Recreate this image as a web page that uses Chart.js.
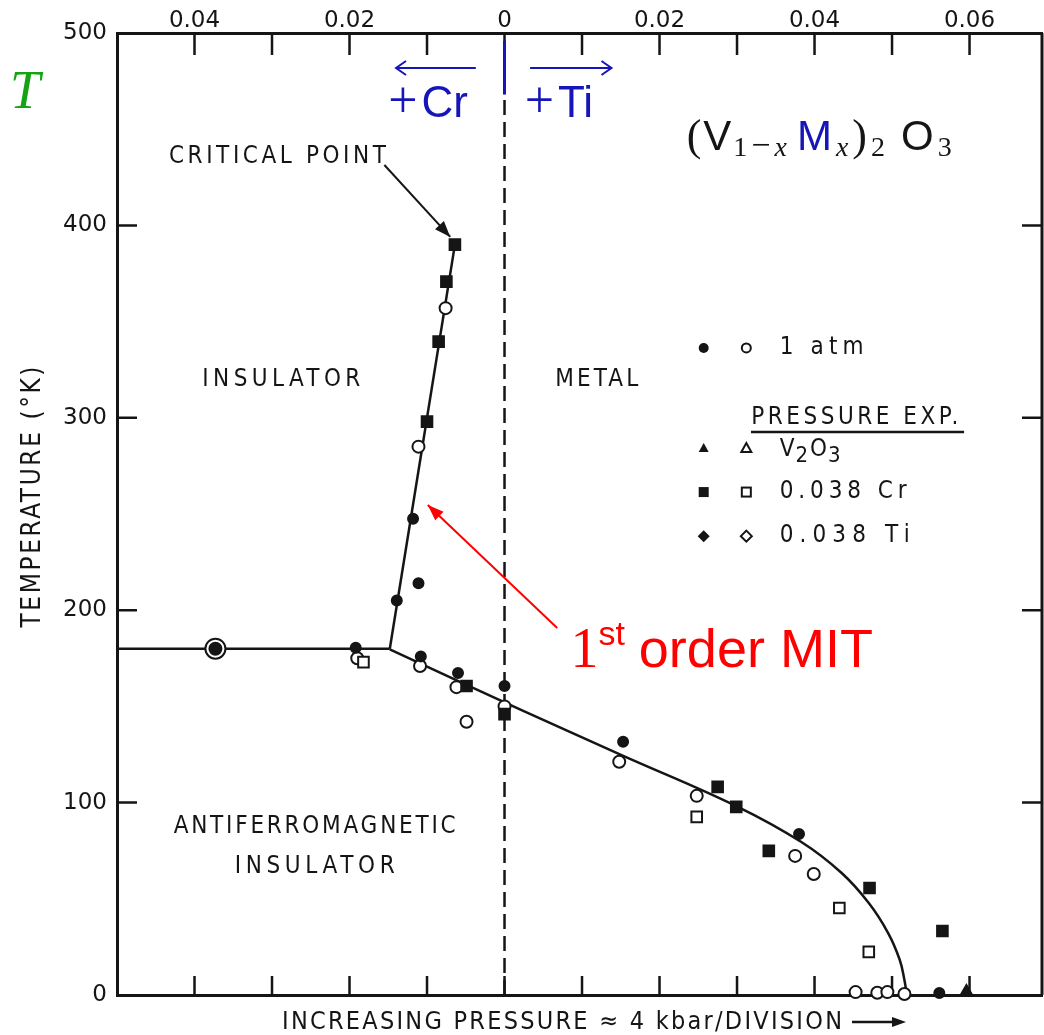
<!DOCTYPE html>
<html>
<head>
<meta charset="utf-8">
<script src="https://cdn.jsdelivr.net/npm/chart.js@4.4.1/dist/chart.umd.min.js"></script>
<style>
  html, body { margin: 0; padding: 0; background: #fff; }
  #wrap { width: 1044px; height: 1035px; }
</style>
</head>
<body>
<div id="wrap"><canvas id="phase" width="1044" height="1035"></canvas></div>
<script>
// --- Data (x = pressure divisions, 0 = pure V2O3; T in K) ---
const X_MIN = -5, X_MAX = 6.935;
const T_MIN = 0, T_MAX = 500;
const yTicks = [0, 100, 200, 300, 400, 500];
const topTickValues = [-4, -2, 0, 2, 4, 6];
const topTickLabels = ['0.04', '0.02', '0', '0.02', '0.04', '0.06'];

const flatBoundary = [[-5, 180], [-1.48, 180]];
const mitBoundary = [[-1.48, 180], [-0.64, 390]];
const afmBoundary = [[-1.48, 179.6], [0.22, 148.1], [1.51, 124.7], [2.99, 98.2], [3.83, 79.5],
                     [4.35, 63.4], [4.70, 47.8], [4.95, 32.2], [5.10, 18.2], [5.16, 7.8], [5.19, 0]];

const atmFilled = [[-1.18, 247.5], [-1.39, 205], [-1.11, 214], [-1.92, 180.5], [-1.08, 176],
                   [-0.60, 167.4], [0, 160.6], [1.53, 131.6], [3.80, 83.7], [5.61, 1]];
const atmOpen = [[-1.11, 285], [-0.76, 357], [-1.90, 175], [-1.09, 171], [-0.62, 160], [-0.49, 142],
                 [0, 150], [1.48, 121.2], [2.48, 103.5], [3.75, 72.3], [3.99, 62.9],
                 [4.53, 1.5], [4.81, 1.2], [4.94, 1.5], [5.16, 0.5]];
const crFilled = [[-0.64, 390], [-0.75, 370.8], [-0.85, 339.6], [-1.00, 298], [-0.49, 160.6], [0, 146],
                  [2.75, 108.2], [2.99, 97.8], [3.41, 74.9], [4.71, 55.6], [5.65, 33.3]];
const crOpen = [[-1.82, 173], [2.48, 92.6], [4.32, 45.2], [4.70, 22.4]];
const v2o3Filled = [[5.96, 1.5]];
const ringPoint = [[-3.73, 180]];

const INK = '#151515';
const BLUE = '#1515b8';
const RED = '#ff0000';
const GREEN = '#13a313';
const LETTER = '"DejaVu Sans Condensed", "DejaVu Sans", sans-serif';

const toXY = arr => arr.map(p => ({ x: p[0], y: p[1] }));

// --- Helpers ---
function fitText(ctx, text, x, y, width, size, align) {
    ctx.save();
    ctx.font = size + 'px ' + LETTER;
    ctx.letterSpacing = '0px';
    const w0 = ctx.measureText(text).width;
    const sp = text.length > 1 ? (width - w0) / (text.length - 1) : 0;
    ctx.letterSpacing = sp + 'px';
    ctx.textAlign = 'left';
    const left = align === 'center' ? x - width / 2 : x;
    ctx.fillText(text, left, y);
    ctx.restore();
}

function drawRuns(ctx, runs, x, y) {
    for (const r of runs) {
        ctx.font = r.font;
        ctx.fillStyle = r.color || INK;
        ctx.fillText(r.text, x, y + (r.dy || 0));
        x += ctx.measureText(r.text).width + (r.gap || 0);
    }
    return x;
}

function arrowHead(ctx, x0, y0, x1, y1, len, half, filled) {
    const a = Math.atan2(y1 - y0, x1 - x0);
    const bx = x1 - len * Math.cos(a), by = y1 - len * Math.sin(a);
    const px = -Math.sin(a) * half, py = Math.cos(a) * half;
    ctx.beginPath();
    ctx.moveTo(bx + px, by + py);
    ctx.lineTo(x1, y1);
    ctx.lineTo(bx - px, by - py);
    if (filled) { ctx.closePath(); ctx.fill(); } else { ctx.stroke(); }
}

// --- Plugin: frame, inward ticks, dashed line, annotations ---
const phasePlugin = {
    id: 'phasePlugin',
    beforeDatasetsDraw(chart) {
        const ctx = chart.ctx;
        const a = chart.chartArea;
        const X = v => chart.scales.x.getPixelForValue(v);
        const Y = v => chart.scales.y.getPixelForValue(v);
        ctx.save();
        ctx.strokeStyle = INK;
        ctx.lineWidth = 3;
        // right frame
        ctx.beginPath(); ctx.moveTo(a.right, a.top); ctx.lineTo(a.right, a.bottom); ctx.stroke();
        // inward ticks
        ctx.lineWidth = 2.5;
        for (let v = -4; v <= 6; v++) {
            ctx.beginPath();
            ctx.moveTo(X(v), a.bottom); ctx.lineTo(X(v), a.bottom - 19);
            ctx.moveTo(X(v), a.top); ctx.lineTo(X(v), a.top + 22);
            ctx.stroke();
        }
        for (let t = 100; t <= 400; t += 100) {
            ctx.beginPath();
            ctx.moveTo(a.left, Y(t)); ctx.lineTo(a.left + 20, Y(t));
            ctx.moveTo(a.right, Y(t)); ctx.lineTo(a.right - 20, Y(t));
            ctx.stroke();
        }
        // dashed x = 0 line
        ctx.setLineDash([15, 7]);
        ctx.lineWidth = 2.5;
        ctx.beginPath(); ctx.moveTo(X(0), Y(0)); ctx.lineTo(X(0), Y(468)); ctx.stroke();
        ctx.setLineDash([]);
        // blue marker at the top of x = 0
        ctx.strokeStyle = BLUE;
        ctx.lineWidth = 3;
        ctx.beginPath(); ctx.moveTo(X(0), Y(496)); ctx.lineTo(X(0), Y(468)); ctx.stroke();
        ctx.restore();
    },
    afterDatasetsDraw(chart) {
        const ctx = chart.ctx;
        const X = v => chart.scales.x.getPixelForValue(v);
        const Y = v => chart.scales.y.getPixelForValue(v);
        ctx.save();
        ctx.fillStyle = INK;
        ctx.strokeStyle = INK;
        ctx.textBaseline = 'middle';

        // region labels
        fitText(ctx, 'CRITICAL POINT', X(-2.93), Y(435.6), 217, 24, 'center');
        fitText(ctx, 'INSULATOR', X(-2.88), Y(319.6), 158, 24, 'center');
        fitText(ctx, 'METAL', X(1.19), Y(319.6), 83, 24, 'center');
        fitText(ctx, 'ANTIFERROMAGNETIC', X(-2.45), Y(87.3), 282, 24, 'center');
        fitText(ctx, 'INSULATOR', X(-2.45), Y(66.5), 160, 24, 'center');

        // critical point arrow
        ctx.lineWidth = 2;
        ctx.beginPath(); ctx.moveTo(X(-1.55), Y(431.4)); ctx.lineTo(X(-0.70), Y(394)); ctx.stroke();
        arrowHead(ctx, X(-1.55), Y(431.4), X(-0.70), Y(394), 16, 6, true);

        // legend
        const lx1 = X(2.57), lx2 = X(3.12), lt = X(3.55);
        const rows = [Y(336.3), Y(284.3), Y(261.4), Y(238.5)];
        ctx.lineWidth = 2;
        ctx.beginPath(); ctx.arc(lx1, rows[0], 5, 0, Math.PI * 2); ctx.fill();
        ctx.beginPath(); ctx.arc(lx2, rows[0], 4.5, 0, Math.PI * 2); ctx.stroke();
        fitText(ctx, '1 atm', lt, rows[0], 84, 24, 'left');
        fitText(ctx, 'PRESSURE EXP.', X(4.52), Y(299.9), 207, 24, 'center');
        ctx.lineWidth = 2.5;
        ctx.beginPath(); ctx.moveTo(X(3.18), Y(292.6)); ctx.lineTo(X(5.93), Y(292.6)); ctx.stroke();
        ctx.lineWidth = 2;
        // triangles
        ctx.beginPath(); ctx.moveTo(lx1, rows[1] - 5); ctx.lineTo(lx1 + 5, rows[1] + 4); ctx.lineTo(lx1 - 5, rows[1] + 4); ctx.closePath(); ctx.fill();
        ctx.beginPath(); ctx.moveTo(lx2, rows[1] - 5); ctx.lineTo(lx2 + 5, rows[1] + 4); ctx.lineTo(lx2 - 5, rows[1] + 4); ctx.closePath(); ctx.stroke();
        ctx.textBaseline = 'alphabetic';
        drawRuns(ctx, [
            { text: 'V', font: '24px ' + LETTER, gap: 1 },
            { text: '2', font: '22px ' + LETTER, dy: 6, gap: 2 },
            { text: 'O', font: '24px ' + LETTER, gap: 1 },
            { text: '3', font: '22px ' + LETTER, dy: 6 }
        ], lt, rows[1] + 8);
        ctx.textBaseline = 'middle';
        // squares
        ctx.fillRect(lx1 - 5, rows[2] - 5, 10, 10);
        ctx.strokeRect(lx2 - 4.5, rows[2] - 4.5, 9, 9);
        fitText(ctx, '0.038 Cr', lt, rows[2], 127, 24, 'left');
        // diamonds
        ctx.beginPath(); ctx.moveTo(lx1, rows[3] - 6); ctx.lineTo(lx1 + 6, rows[3]); ctx.lineTo(lx1, rows[3] + 6); ctx.lineTo(lx1 - 6, rows[3]); ctx.closePath(); ctx.fill();
        ctx.beginPath(); ctx.moveTo(lx2, rows[3] - 5.5); ctx.lineTo(lx2 + 5.5, rows[3]); ctx.lineTo(lx2, rows[3] + 5.5); ctx.lineTo(lx2 - 5.5, rows[3]); ctx.closePath(); ctx.stroke();
        fitText(ctx, '0.038 Ti', lt, rows[3], 130, 24, 'left');

        // axis titles
        ctx.save();
        ctx.translate(33, 497);
        ctx.rotate(-Math.PI / 2);
        fitText(ctx, 'TEMPERATURE (°K)', 0, 0, 261, 26, 'center');
        ctx.restore();
        fitText(ctx, 'INCREASING PRESSURE ≈ 4 kbar/DIVISION', 282, 1022, 560, 25, 'left');
        ctx.lineWidth = 2.5;
        ctx.beginPath(); ctx.moveTo(852, 1022); ctx.lineTo(900, 1022); ctx.stroke();
        arrowHead(ctx, 852, 1022, 906, 1022, 14, 5, true);

        // blue composition arrows
        ctx.textBaseline = 'alphabetic';
        ctx.strokeStyle = BLUE;
        ctx.fillStyle = BLUE;
        ctx.lineWidth = 2;
        const ay = Y(481.8);
        ctx.beginPath(); ctx.moveTo(X(-0.37), ay); ctx.lineTo(X(-1.40), ay); ctx.stroke();
        arrowHead(ctx, X(-0.37), ay, X(-1.40), ay, 10, 7, false);
        ctx.beginPath(); ctx.moveTo(X(0.33), ay); ctx.lineTo(X(1.38), ay); ctx.stroke();
        arrowHead(ctx, X(0.33), ay, X(1.38), ay, 10, 7, false);
        const sans = '"Liberation Sans", sans-serif';
        const serif = '"Liberation Serif", "DejaVu Serif", serif';
        drawRuns(ctx, [
            { text: '+', font: '52px ' + serif, color: BLUE, gap: 4 },
            { text: 'Cr', font: '44px ' + sans, color: BLUE }
        ], X(-1.50), Y(456.5));
        drawRuns(ctx, [
            { text: '+', font: '52px ' + serif, color: BLUE, gap: 4 },
            { text: 'Ti', font: '44px ' + sans, color: BLUE }
        ], X(0.26), Y(456.5));

        // formula (V1-x Mx)2 O3
        drawRuns(ctx, [
            { text: '(', font: '44px ' + serif, gap: 2 },
            { text: 'V', font: '42px ' + sans, gap: 2 },
            { text: '1', font: '28px ' + serif, dy: 6, gap: 4 },
            { text: '−', font: '34px ' + serif, dy: 6, gap: 4 },
            { text: 'x', font: 'italic 28px ' + serif, dy: 6, gap: 10 },
            { text: 'M', font: '42px ' + sans, color: BLUE, gap: 4 },
            { text: 'x', font: 'italic 28px ' + serif, dy: 6, gap: 4 },
            { text: ')', font: '44px ' + serif, gap: 4 },
            { text: '2', font: '28px ' + serif, dy: 6, gap: 16 },
            { text: 'O', font: '42px ' + sans, gap: 4 },
            { text: '3', font: '28px ' + serif, dy: 6 }
        ], X(2.35), Y(439));

        // green T
        ctx.fillStyle = GREEN;
        ctx.font = 'italic 54px "Liberation Serif", serif';
        ctx.fillText('T', 10, 108);

        // red MIT annotation
        ctx.strokeStyle = RED;
        ctx.fillStyle = RED;
        ctx.lineWidth = 2;
        ctx.beginPath(); ctx.moveTo(X(0.68), Y(190.7)); ctx.lineTo(X(-0.99), Y(254.7)); ctx.stroke();
        arrowHead(ctx, X(0.68), Y(190.7), X(-0.99), Y(254.7), 16, 6, true);
        drawRuns(ctx, [
            { text: '1', font: '56px ' + serif, color: RED },
            { text: 'st', font: '34px ' + sans, color: RED, dy: -22, gap: 14 },
            { text: 'order MIT', font: '54px ' + sans, color: RED }
        ], X(0.85), Y(170.5));

        ctx.restore();
    }
};

// --- Chart ---
const lineStyle = { type: 'line', showLine: true, pointRadius: 0, borderColor: INK, borderWidth: 2.5, fill: false, clip: false, order: 10 };
const ptStyle = { type: 'scatter', clip: false, borderColor: INK, borderWidth: 2 };

new Chart(document.getElementById('phase'), {
    type: 'scatter',
    data: {
        datasets: [
            { ...lineStyle, data: toXY(flatBoundary) },
            { ...lineStyle, data: toXY(mitBoundary) },
            { ...lineStyle, data: toXY(afmBoundary), tension: 0.4 },
            { ...ptStyle, order: 9, data: toXY(ringPoint), pointStyle: 'circle', pointRadius: 10, backgroundColor: '#fff' },
            { ...ptStyle, order: 8, data: toXY(ringPoint), pointStyle: 'circle', pointRadius: 6, backgroundColor: INK },
            { ...ptStyle, order: 7, data: toXY(atmOpen), pointStyle: 'circle', pointRadius: 6, backgroundColor: '#fff' },
            { ...ptStyle, order: 6, data: toXY(crOpen), pointStyle: 'rect', pointRadius: 7.5, backgroundColor: '#fff' },
            { ...ptStyle, order: 5, data: toXY(atmFilled), pointStyle: 'circle', pointRadius: 5, backgroundColor: INK },
            { ...ptStyle, order: 4, data: toXY(crFilled), pointStyle: 'rect', pointRadius: 7.5, backgroundColor: INK },
            { ...ptStyle, order: 3, data: toXY(v2o3Filled), pointStyle: 'triangle', pointRadius: 7, backgroundColor: INK }
        ]
    },
    options: {
        responsive: false,
        devicePixelRatio: 1,
        animation: false,
        layout: { autoPadding: false, padding: { right: 2, left: 0, top: 0, bottom: 0 } },
        plugins: { legend: { display: false }, tooltip: { enabled: false } },
        scales: {
            x: {
                type: 'linear', position: 'bottom', min: X_MIN, max: X_MAX,
                ticks: { display: false },
                grid: { display: false },
                border: { display: true, color: INK, width: 3 },
                afterFit: s => { s.height = 40; s.paddingLeft = 0; s.paddingRight = 0; }
            },
            xTop: {
                type: 'linear', position: 'top', min: X_MIN, max: X_MAX,
                afterBuildTicks: s => { s.ticks = topTickValues.map(v => ({ value: v })); },
                ticks: {
                    color: INK, padding: -2, maxRotation: 0, autoSkip: false,
                    font: { family: 'DejaVu Sans', size: 23 },
                    callback: (v) => topTickLabels[topTickValues.indexOf(v)]
                },
                grid: { display: false, drawTicks: false },
                border: { display: true, color: INK, width: 3 },
                afterFit: s => { s.height = 33; s.paddingLeft = 0; s.paddingRight = 0; }
            },
            y: {
                type: 'linear', min: T_MIN, max: T_MAX,
                afterBuildTicks: s => { s.ticks = yTicks.map(v => ({ value: v })); },
                ticks: { color: INK, padding: 10, font: { family: 'DejaVu Sans', size: 23 } },
                grid: { display: false, drawTicks: false },
                border: { display: true, color: INK, width: 3 },
                afterFit: s => { s.width = 117; s.paddingTop = 0; s.paddingBottom = 0; }
            }
        }
    },
    plugins: [phasePlugin]
});
</script>
</body>
</html>
